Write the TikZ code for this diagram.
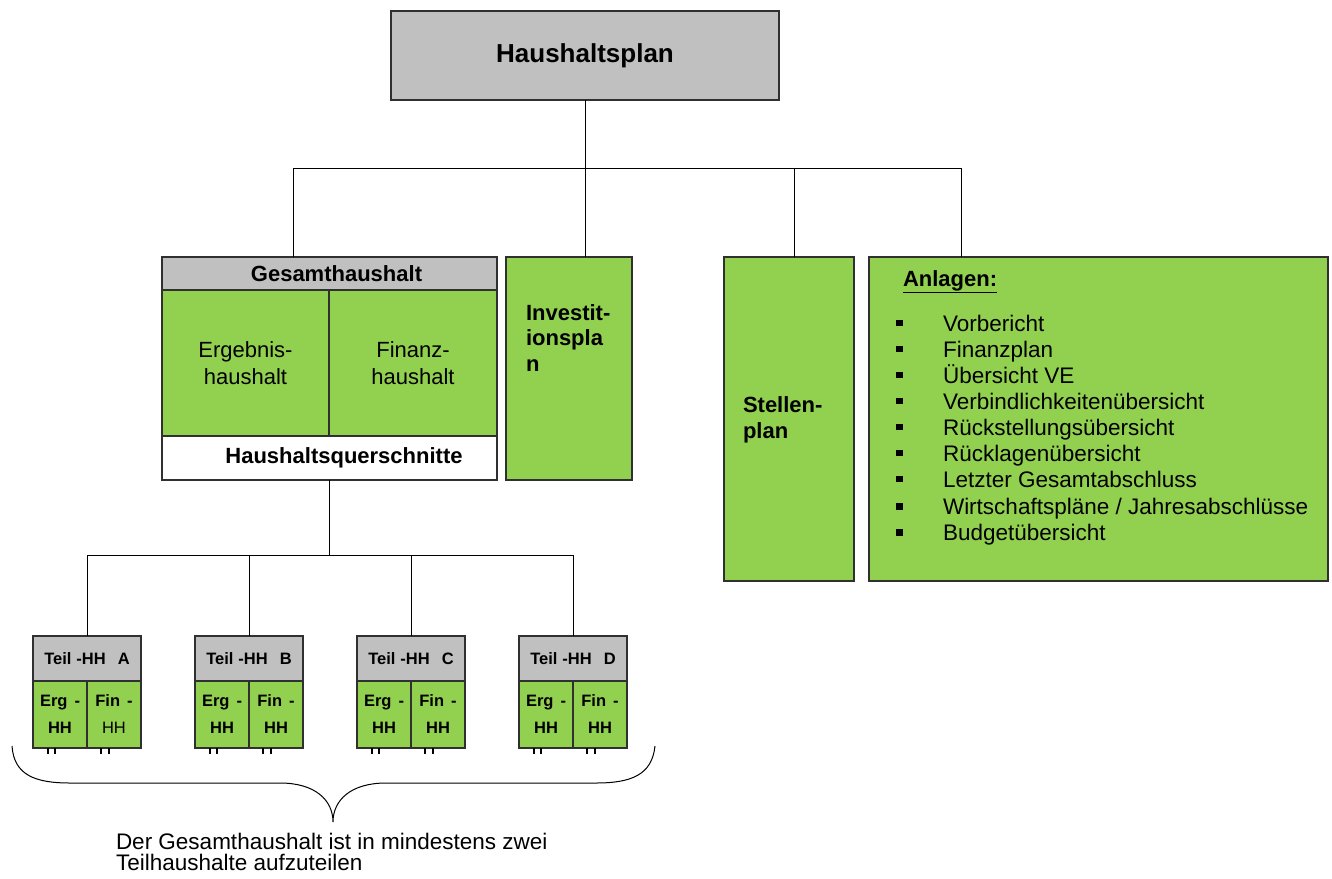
\documentclass[tikz,border=0pt]{standalone}
\usepackage{fontspec}
\setmainfont{Liberation Sans}
\definecolor{hhgreen}{HTML}{92D050}
\definecolor{hhgray}{HTML}{C0C0C0}
\definecolor{bordc}{HTML}{303030}
\begin{document}
\begin{tikzpicture}[x=1pt,y=-1pt,
  box/.style={draw=bordc, line width=1.2pt, inner sep=0pt, outer sep=0pt, anchor=north west},
  gbox/.style={box, fill=hhgreen},
  ybox/.style={box, fill=hhgray},
  wbox/.style={box, fill=white},
  txt/.style={inner sep=0pt, outer sep=0pt},
  bigb/.style={font=\fontsize{26}{30}\selectfont\bfseries},
  mb/.style={font=\fontsize{22}{26}\selectfont\bfseries},
  mr/.style={font=\fontsize{22}{27}\selectfont},
  lr/.style={font=\fontsize{22.5}{27}\selectfont},
  sb/.style={font=\fontsize{16.5}{27}\selectfont\bfseries},
  conn/.style={draw=black, line width=1pt},
  stubmark/.style={line width=2.8pt, draw=black}
]
\useasboundingbox (0,0) rectangle (1332,878);

% top box
\node[ybox, minimum width=388pt, minimum height=89pt, bigb] (hp) at (391,11) {Haushaltsplan};

% Gesamthaushalt block
\node[ybox, minimum width=335pt, minimum height=33pt, mb] (gh) at (162,257) {\hspace*{14pt}Gesamthaushalt};
\node[gbox, minimum width=167pt, minimum height=146pt, mr, align=center] (eh) at (162,290) {Ergebnis-\\haushalt};
\node[gbox, minimum width=168pt, minimum height=146pt, mr, align=center] (fh) at (329,290) {Finanz-\\haushalt};
\node[wbox, minimum width=335pt, minimum height=44pt, mb] (hq) at (162,436) {\hspace*{29pt}Haushaltsquerschnitte};

% Investitionsplan
\node[gbox, line width=2.2pt, minimum width=126pt, minimum height=223pt] (inv) at (506,257) {};
\node[txt, align=left, anchor=west, font=\fontsize{22}{25.5}\selectfont\bfseries] (invT) at (526,338) {Investit-\\ionspla\\n};

% Stellenplan
\node[gbox, minimum width=130pt, minimum height=324pt] (st) at (724,257) {};
\node[txt, mb, align=left, anchor=west] (stT) at (743,420) {Stellen-\\plan};

% Anlagen
\node[gbox, minimum width=459pt, minimum height=324pt] (an) at (869,257) {};
\node[txt, mb, anchor=base west] (anT) at (903,286) {\underline{Anlagen:}};
\foreach \t [count=\i] in {Vorbericht, Finanzplan, Übersicht VE, Verbindlichkeitenübersicht, Rückstellungsübersicht, Rücklagenübersicht, Letzter Gesamtabschluss, Wirtschaftspläne / Jahresabschlüsse, Budgetübersicht}{
  \pgfmathsetmacro{\yy}{323+26*(\i-1)+(\i>7)*1.5}
  \node[txt, lr, anchor=base west] (it\i) at (943,\yy+8) {\t};
  \node[fill=black, inner sep=0pt, minimum size=6.5pt] (bu\i) at (899.5,\yy) {};
}

% top connectors
\coordinate (b1) at (293,168);
\coordinate (b4) at (961,168);
\coordinate (b3) at (794,168);
\draw[conn] (b1) -- (b4);
\draw[conn] (hp.south) -- (inv.north -| hp.south);
\draw[conn] (b1) -- (b1 |- gh.north);
\draw[conn] (b3) -- (b3 |- st.north);
\draw[conn] (b4) -- (b4 |- an.north);

% Teil-HH boxes
\foreach \L/\x in {A/33, B/195, C/357, D/519}{
  \node[ybox, minimum width=108pt, minimum height=45pt, sb] (t\L) at (\x,636) {Teil\hspace{5pt}-HH\hspace{12pt}\L};
  \node[gbox, minimum width=54pt, minimum height=67pt, sb, align=center] (e\L) at (\x,681) {Erg\hspace{7pt}-\\HH};
  \node[gbox, minimum width=54pt, minimum height=67pt, sb, align=center] (f\L) at (\x+54,681) {Fin\hspace{7pt}-\\\if\L A\mdseries\fi HH};
  \draw[stubmark] ([xshift=15pt]e\L.south west) -- ++(0,6);
  \draw[stubmark] ([xshift=22pt]e\L.south west) -- ++(0,6);
  \draw[stubmark] ([xshift=14pt]f\L.south west) -- ++(0,6);
  \draw[stubmark] ([xshift=22pt]f\L.south west) -- ++(0,6);
}

% lower connectors
\coordinate (c1) at (88,555);
\draw[conn] (hq.south) -- (hq.south |- c1);
\draw[conn] (c1) -- (c1 -| tD.north);
\foreach \L in {A,B,C,D}{
  \draw[conn] (c1 -| t\L.north) -- (t\L.north);
}

% brace
\draw[line width=1pt] (12,746) .. controls (14,775) and (35,783) .. (70,783) -- (280,783)
  .. controls (315,783) and (333,800) .. (333,822)
  .. controls (333,800) and (351,783) .. (386,783) -- (596,783)
  .. controls (631,783) and (652,775) .. (655,746);

\node[txt, anchor=west, align=left, font=\fontsize{22.5}{21}\selectfont] (note) at (116,852) {Der Gesamthaushalt ist in mindestens zwei\\Teilhaushalte aufzuteilen};
\end{tikzpicture}
\end{document}
